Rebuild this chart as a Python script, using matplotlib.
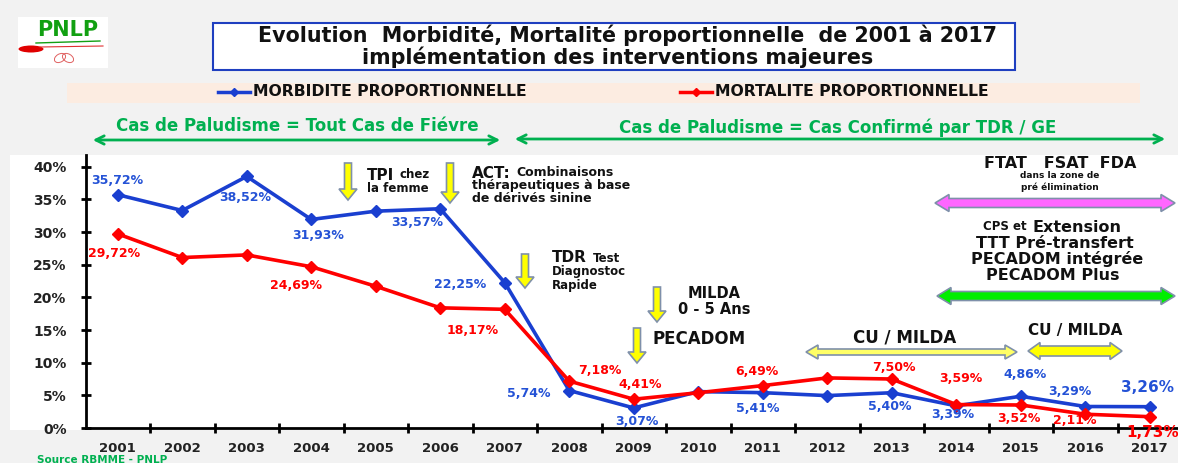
import matplotlib.pyplot as plt
from matplotlib.patches import Rectangle, Polygon, FancyArrow, Ellipse

# data (values without a label are estimated)
years = list(range(2001, 2018))
morbidite = [35.72, 33.3, 38.52, 31.93, 33.2, 33.57, 22.25, 5.74, 3.07, 5.57,
             5.41, 4.96, 5.40, 3.39, 4.86, 3.29, 3.26]
mortalite = [29.72, 26.1, 26.5, 24.69, 21.7, 18.4, 18.17, 7.18, 4.41, 5.4,
             6.49, 7.67, 7.50, 3.59, 3.52, 2.11, 1.73]
y_ticks = [0, 5, 10, 15, 20, 25, 30, 35, 40]

serie_names = ["MORBIDITE PROPORTIONNELLE", "MORTALITE PROPORTIONNELLE"]

# labelled points: year -> label offset in pixels
lab_morb = {2001: (0, 14), 2003: (-2, -21), 2004: (7, -16), 2006: (-23, -14),
            2007: (-45, -2), 2008: (-41, -3), 2009: (3, -14), 2011: (-5, -16),
            2013: (-2, -14), 2014: (-3, -9), 2015: (4, 22), 2016: (-15, 15),
            2017: (-2, 19)}
lab_mort = {2001: (-4, -20), 2004: (-15, -19), 2007: (-32, -21), 2008: (31, 11),
            2009: (6, 15), 2011: (-6, 14), 2013: (2, 12), 2014: (5, 26),
            2015: (-2, -13), 2016: (-10, -6), 2017: (3, -16)}

BLUE = '#1a3fd0'
BLUE_TXT = '#2452d6'
RED = '#ff0000'
GREEN = '#00b050'
OUTLINE = '#7f90aa'

W, H = 1178, 463
fig = plt.figure(figsize=(W / 100, H / 100), dpi=100, facecolor='#f2f2f2')
renderer = fig.canvas.get_renderer()

# overlay in pixel coordinates for the decorations
ov = fig.add_axes([0, 0, 1, 1], zorder=0)
ov.set_xlim(0, W)
ov.set_ylim(H, 0)
ov.axis('off')

ax = fig.add_axes([85.5 / W, (H - 428) / H, (1182 - 85.5) / W, 273 / H], zorder=1)
ax.patch.set_alpha(0)


def txt(x, y, s, size, color='#111111', ha='left', family='DejaVu Sans', **kw):
    return ov.text(x, y, s, fontsize=size, color=color, ha=ha, va='center',
                   fontweight='bold', family=family, **kw)


def fit_width(t, width):
    # scale font so the text spans the given width in pixels
    w = t.get_window_extent(renderer).width
    t.set_fontsize(t.get_fontsize() * width / w)


def varrow(x, y0, y1):
    ov.add_patch(FancyArrow(x, y0, 0, y1 - y0, width=7, head_width=18,
                            head_length=11, length_includes_head=True,
                            fc='#ffff00', ec=OUTLINE, lw=1.2))


def harrow(x0, x1, y, shaft, head_h, head_l, fc):
    pts = [(x0, y), (x0 + head_l, y - head_h / 2), (x0 + head_l, y - shaft / 2),
           (x1 - head_l, y - shaft / 2), (x1 - head_l, y - head_h / 2), (x1, y),
           (x1 - head_l, y + head_h / 2), (x1 - head_l, y + shaft / 2),
           (x0 + head_l, y + shaft / 2), (x0 + head_l, y + head_h / 2)]
    ov.add_patch(Polygon(pts, closed=True, fc=fc, ec=OUTLINE, lw=1.2))


# backgrounds
ov.add_patch(Rectangle((10, 155), W - 10, 275, fc='white', ec='none'))
ov.add_patch(Rectangle((67, 83), 1073, 20, fc='#fcece1', ec='none'))

# logo
ov.add_patch(Rectangle((18, 17), 90, 51, fc='white', ec='none'))
txt(68, 30, 'PNLP', 15, color='#12a012', ha='center')
ov.plot([36, 100], [43, 41], color='#12a012', lw=1)
ov.plot([40, 103], [47, 46], color='#e03030', lw=0.8)
ov.add_patch(Ellipse((31, 49), 25, 7, fc='#e00000', ec='none'))
ov.add_patch(Ellipse((60, 58), 12, 8, angle=-30, fc='none', ec='#e06060', lw=0.7))
ov.add_patch(Ellipse((68, 58), 12, 8, angle=30, fc='none', ec='#e06060', lw=0.7))

# title box
ov.add_patch(Rectangle((213, 23), 802, 47, fc='white', ec='#1f3fc0', lw=1.5))
t1 = txt(627, 35, 'Evolution  Morbidité, Mortalité proportionnelle  de 2001 à 2017', 12,
         ha='center')
t2 = txt(618, 57, 'implémentation des interventions majeures', 12, ha='center')
fit_width(t1, 735)
t2.set_fontsize(t1.get_fontsize())

# legend
ov.plot([218, 250], [92, 92], color=BLUE, lw=2.5)
ov.plot([234], [92], marker='D', color=BLUE, ms=4)
fit_width(txt(253, 92, serie_names[0], 10), 275)
ov.plot([680, 712], [92, 92], color=RED, lw=2.5)
ov.plot([696], [92], marker='D', color=RED, ms=4)
fit_width(txt(715, 92, serie_names[1], 10), 275)

# case definition arrows
txt(297, 126, 'Cas de Paludisme = Tout Cas de Fiévre', 12, color=GREEN, ha='center')
txt(838, 128, 'Cas de Paludisme = Cas Confirmé par TDR / GE', 12, color=GREEN, ha='center')
ap = dict(arrowstyle='<->,head_length=0.6,head_width=0.3', color=GREEN, lw=2)
ov.annotate('', xy=(503, 140), xytext=(90, 140), arrowprops=ap)
ov.annotate('', xy=(1168, 139), xytext=(512, 139), arrowprops=ap)

# interventions
varrow(348, 163, 200)
txt(367, 175, 'TPI', 11)
txt(399, 175, 'chez', 8.5)
txt(367, 188, 'la femme', 8.5)

varrow(450, 163, 203)
txt(472, 173, 'ACT:', 11)
txt(516, 173, 'Combinaisons', 9)
txt(472, 186, 'thérapeutiques à base', 9)
txt(472, 199, 'de dérivés sinine', 9)

varrow(525, 254, 288)
txt(552, 258, 'TDR', 11)
txt(593, 258, 'Test', 8.5)
txt(552, 272, 'Diagnostoc', 8.5)
txt(552, 285, 'Rapide', 8.5)

varrow(657, 287, 322)
txt(714, 294, 'MILDA', 10.5, ha='center')
txt(714, 310, '0 - 5 Ans', 10.5, ha='center')

varrow(637, 328, 363)
txt(653, 339, 'PECADOM', 12)

txt(905, 338, 'CU / MILDA', 12, ha='center')
harrow(806, 1017, 352, 6, 14, 12, '#ffff66')
txt(1075, 331, 'CU / MILDA', 11, ha='center')
harrow(1028, 1122, 351, 10, 17, 12, '#ffff00')

txt(1060, 164, 'FTAT   FSAT  FDA', 11.5, ha='center')
txt(1060, 176, 'dans la zone de', 6.5, ha='center')
txt(1060, 187, 'pré élimination', 6.5, ha='center')
harrow(935, 1175, 203, 9, 17, 14, '#ff66ff')

txt(1027, 227, 'CPS et', 8.5, ha='right')
txt(1033, 227, 'Extension', 11.5)
txt(1055, 243, 'TTT Pré-transfert', 11.5, ha='center')
txt(1057, 259, 'PECADOM intégrée', 11.5, ha='center')
txt(1053, 276, 'PECADOM Plus', 11.5, ha='center')
harrow(937, 1175, 296, 9, 17, 14, '#00ee00')

txt(37, 460, 'Source RBMME - PNLP', 7.5, color=GREEN)

# chart
x = list(range(len(years)))
ax.plot(x, morbidite, color=BLUE, lw=2.6, marker='D', ms=6, zorder=3)
ax.plot(x, mortalite, color=RED, lw=2.6, marker='D', ms=6, zorder=4)


def fmt(v):
    return f'{v:.2f}'.replace('.', ',') + '%'


for vals, labs, col in [(morbidite, lab_morb, BLUE_TXT), (mortalite, lab_mort, RED)]:
    for yr, off in labs.items():
        i = years.index(yr)
        ax.annotate(fmt(vals[i]), (i, vals[i]), xytext=off, textcoords='offset pixels',
                    ha='center', va='center', color=col, fontweight='bold',
                    fontsize=11 if yr == 2017 else 9, zorder=5)

ax.set_xlim(-0.5, 16.5)
ax.set_ylim(0, 41.8)
ax.set_yticks(y_ticks)
ax.set_yticklabels([f'{v}%' for v in y_ticks])
ax.set_xticks(x)
ax.set_xticklabels([str(y) for y in years])
ax.set_xticks([i + 0.5 for i in x], minor=True)
ax.tick_params(axis='x', which='major', length=0, pad=10)
ax.tick_params(axis='x', which='minor', direction='inout', length=7, width=2)
ax.tick_params(axis='y', direction='inout', length=7, width=2, pad=10)
for lab in ax.get_xticklabels():
    lab.set_fontweight('bold')
    lab.set_fontsize(9.5)
    lab.set_color('#222222')
for lab in ax.get_yticklabels():
    lab.set_fontweight('bold')
    lab.set_fontsize(10)
    lab.set_color('#222222')
for s in ['top', 'right']:
    ax.spines[s].set_visible(False)
for s in ['left', 'bottom']:
    ax.spines[s].set_linewidth(2)

fig.savefig('out.png', dpi=100, facecolor=fig.get_facecolor())
